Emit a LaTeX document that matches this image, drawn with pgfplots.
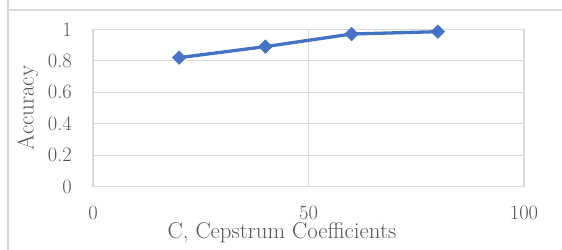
\documentclass[border=0pt]{standalone}
\usepackage{pgfplots}
\pgfplotsset{compat=1.18}
\usepackage{fontspec}
\definecolor{txt}{HTML}{555555}
\definecolor{gridc}{HTML}{D9D9D9}
\definecolor{ser}{HTML}{4472C4}
\newcommand{\ff}{\fontsize{20.5bp}{24bp}\selectfont}
\newcommand{\fl}{\fontsize{22.8bp}{26bp}\selectfont}
\begin{document}
\begin{tikzpicture}
\useasboundingbox (0,0) rectangle (562bp,250bp);
\draw[gridc, line width=1.5bp] (8bp,252bp) -- (8bp,240bp) -- (564bp,240bp);
\draw[gridc, line width=1.5bp] (8bp,240bp) -- (8bp,-2bp);
\begin{axis}[
  at={(93bp,63.3bp)}, anchor=origin,
  scale only axis, width=431bp, height=157.4bp,
  xmin=0, xmax=100, ymin=0, ymax=1,
  xtick={0,50,100}, ytick={0,0.2,0.4,0.6,0.8,1},
  yticklabels={0,0.2,0.4,0.6,0.8,1},
  xticklabels={0,50,100},
  grid=major, major grid style={gridc, line width=1bp},
  axis line style={gridc, line width=1.2bp},
  tick style={draw=none},
  /pgf/number format/assume math mode=true,
  ticklabel style={font=\ff, text=txt},
  y tick label style={anchor=east, inner sep=0pt, xshift=-21bp},
  x tick label style={anchor=north, inner sep=0pt, yshift=-19bp},
  xlabel={C, Cepstrum Coefficients}, ylabel={Accuracy},
  label style={font=\fl, text=txt},
  x label style={at={(axis description cs:0.4385,-0.3320)}, anchor=base, inner sep=0pt},
  y label style={at={(axis description cs:-0.1508,0.5)}, anchor=center, inner sep=0pt},
  clip=false,
]
\addplot[ser, line width=3.3bp, mark=square*, mark size=4.8bp, mark options={rotate=45, fill=ser, draw=ser, line width=0.5bp}]
  coordinates {(20,0.82) (40,0.89) (60,0.97) (80,0.985)};
\end{axis}
\end{tikzpicture}
\end{document}
